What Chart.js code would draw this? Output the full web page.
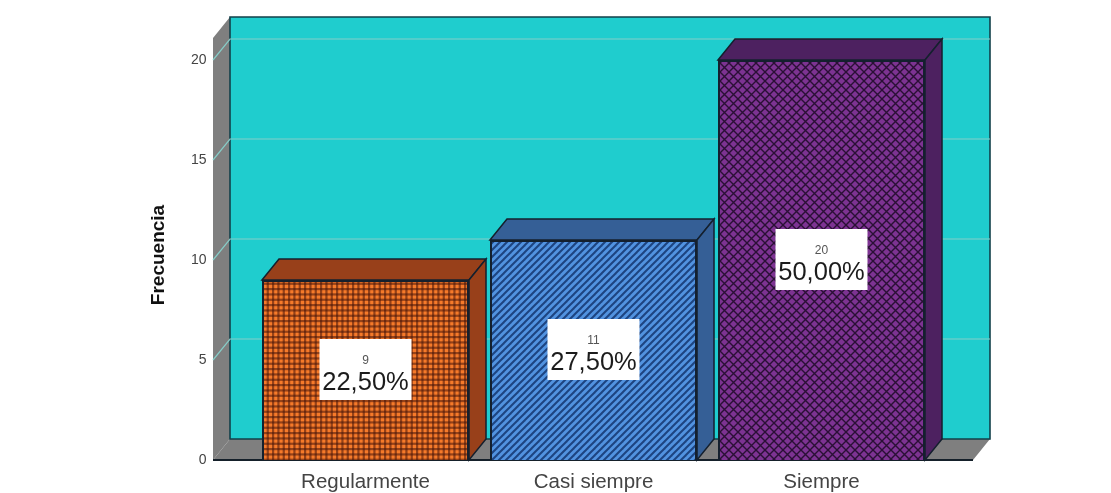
<!DOCTYPE html>
<html>
<head>
<meta charset="utf-8">
<title>Frecuencia</title>
<script src="https://cdn.jsdelivr.net/npm/chart.js@4"></script>
<style>
  html, body { margin: 0; padding: 0; background: #fff; }
  canvas { display: block; }
</style>
</head>
<body>
<canvas id="chart" width="1111" height="493"></canvas>
<script>
const categories = ['Regularmente', 'Casi siempre', 'Siempre'];
const frecuencia = [9, 11, 20];
const porcentajes = ['22,50%', '27,50%', '50,00%'];
const yTicks = [0, 5, 10, 15, 20];

const DEPTH_X = 17, DEPTH_Y = 21;
const sideColors = ['#98401a', '#355f96', '#4d2160'];
const edgeColor = '#14202e';

function makePattern(size, draw) {
    const c = document.createElement('canvas');
    c.width = c.height = size;
    draw(c.getContext('2d'), size);
    return c.getContext('2d').createPattern(c, 'repeat');
}

// Orange plaid
const plaid = makePattern(16, (g, s) => {
    g.fillStyle = '#f67a2a';
    g.fillRect(0, 0, s, s);
    g.fillStyle = 'rgba(70,20,10,0.55)';
    for (let i = 0; i < 3; i++) {
        g.fillRect(i * 16 / 3, 0, 2.2, s);
        g.fillRect(0, i * 16 / 3, s, 2.2);
    }
});

// Blue diagonal stripes
const stripes = makePattern(7, (g, s) => {
    g.fillStyle = '#5293e0';
    g.fillRect(0, 0, s, s);
    g.strokeStyle = '#1d4480';
    g.lineWidth = 2;
    for (let i = -1; i <= 1; i++) {
        g.beginPath();
        g.moveTo(i * s - 1, s + 1);
        g.lineTo(i * s + s + 1, -1);
        g.stroke();
    }
});

// Purple crosshatch
const hatch = makePattern(9, (g, s) => {
    g.fillStyle = '#7d3392';
    g.fillRect(0, 0, s, s);
    g.strokeStyle = '#2a1035';
    g.lineWidth = 1.4;
    g.beginPath();
    g.moveTo(0, 0); g.lineTo(s, s);
    g.moveTo(s, 0); g.lineTo(0, s);
    g.stroke();
});

function poly(ctx, pts, fill, stroke, lw) {
    ctx.beginPath();
    pts.forEach((p, i) => i ? ctx.lineTo(p[0], p[1]) : ctx.moveTo(p[0], p[1]));
    ctx.closePath();
    ctx.fillStyle = fill;
    ctx.fill();
    if (stroke) {
        ctx.strokeStyle = stroke;
        ctx.lineWidth = lw || 1;
        ctx.stroke();
    }
}

const box3d = {
    id: 'box3d',
    // Back wall, floor, side wall and gridlines
    beforeDatasetsDraw(chart) {
        const { ctx, chartArea: a, scales: { y } } = chart;
        const left = a.left - 38.5, right = a.right + 37.5, bottom = y.getPixelForValue(0), top = a.top;
        ctx.save();
        poly(ctx, [[left, top], [left + DEPTH_X, top - DEPTH_Y], [left + DEPTH_X, bottom - DEPTH_Y], [left, bottom]], '#7f7f7f');
        poly(ctx, [[left, bottom], [left + DEPTH_X, bottom - DEPTH_Y], [right + DEPTH_X, bottom - DEPTH_Y], [right, bottom]], '#7f7f7f');
        poly(ctx, [[left + DEPTH_X, top - DEPTH_Y], [right + DEPTH_X, top - DEPTH_Y], [right + DEPTH_X, bottom - DEPTH_Y], [left + DEPTH_X, bottom - DEPTH_Y]], '#1fcdce', '#12404a', 1.6);
        ctx.strokeStyle = '#86cdc8';
        ctx.lineWidth = 1.2;
        yTicks.slice(1).forEach(v => {
            const py = y.getPixelForValue(v);
            ctx.beginPath();
            ctx.moveTo(left, py);
            ctx.lineTo(left + DEPTH_X, py - DEPTH_Y);
            ctx.lineTo(right + DEPTH_X, py - DEPTH_Y);
            ctx.stroke();
        });
        ctx.strokeStyle = '#15202a';
        ctx.lineWidth = 2;
        ctx.beginPath();
        ctx.moveTo(left, bottom);
        ctx.lineTo(right, bottom);
        ctx.stroke();

        // Top and side faces of the bars
        chart.getDatasetMeta(0).data.forEach((bar, i) => {
            const l = bar.x - bar.width / 2, r = bar.x + bar.width / 2;
            poly(ctx, [[l, bar.y], [l + DEPTH_X, bar.y - DEPTH_Y], [r + DEPTH_X, bar.y - DEPTH_Y], [r, bar.y]], sideColors[i], edgeColor, 1.5);
            poly(ctx, [[r, bar.y], [r + DEPTH_X, bar.y - DEPTH_Y], [r + DEPTH_X, bar.base - DEPTH_Y], [r, bar.base]], sideColors[i], edgeColor, 1.5);
        });
        ctx.restore();
    },
    // White label boxes in the middle of each bar, and the axis title
    afterDatasetsDraw(chart) {
        const { ctx } = chart;
        ctx.save();
        ctx.textAlign = 'center';
        ctx.textBaseline = 'middle';
        chart.getDatasetMeta(0).data.forEach((bar, i) => {
            const cy = (bar.y + bar.base) / 2;
            ctx.fillStyle = '#fff';
            ctx.fillRect(bar.x - 46, cy - 31, 92, 61);
            ctx.fillStyle = '#555';
            ctx.font = '12px "Liberation Sans"';
            ctx.fillText(frecuencia[i], bar.x, cy - 9);
            ctx.fillStyle = '#1c1c1c';
            ctx.font = '25.5px "Liberation Sans"';
            ctx.fillText(porcentajes[i], bar.x, cy + 13);
        });
        ctx.translate(159, 255);
        ctx.rotate(-Math.PI / 2);
        ctx.fillStyle = '#111';
        ctx.font = 'bold 19px "Liberation Sans"';
        ctx.fillText('Frecuencia', 0, 0);
        ctx.restore();
    }
};

new Chart(document.getElementById('chart'), {
    type: 'bar',
    data: {
        labels: categories,
        datasets: [{
            label: 'Frecuencia',
            data: frecuencia,
            backgroundColor: [plaid, stripes, hatch],
            borderColor: edgeColor,
            borderWidth: 2,
            barPercentage: 0.908,
            categoryPercentage: 1
        }]
    },
    options: {
        responsive: false,
        animation: false,
        layout: { padding: { left: 148, right: 175.5, top: 38, bottom: 0 } },
        plugins: { legend: { display: false }, tooltip: { enabled: false } },
        scales: {
            x: {
                grid: { display: false },
                border: { display: false },
                afterFit: scale => { scale.height = 33; },
                ticks: { color: '#444', padding: 2, maxRotation: 0, font: { family: 'Liberation Sans', size: 20.5 } }
            },
            y: {
                min: 0,
                max: 21.1,
                afterFit: scale => { scale.width = 103.5; scale.paddingTop = 0; scale.paddingBottom = 0; },
                afterBuildTicks: scale => { scale.ticks = yTicks.map(value => ({ value })); },
                grid: { display: false, drawTicks: false },
                border: { display: false },
                ticks: { color: '#444', padding: 45, font: { family: 'Liberation Sans', size: 14 } }
            }
        }
    },
    plugins: [box3d]
});
</script>
</body>
</html>
